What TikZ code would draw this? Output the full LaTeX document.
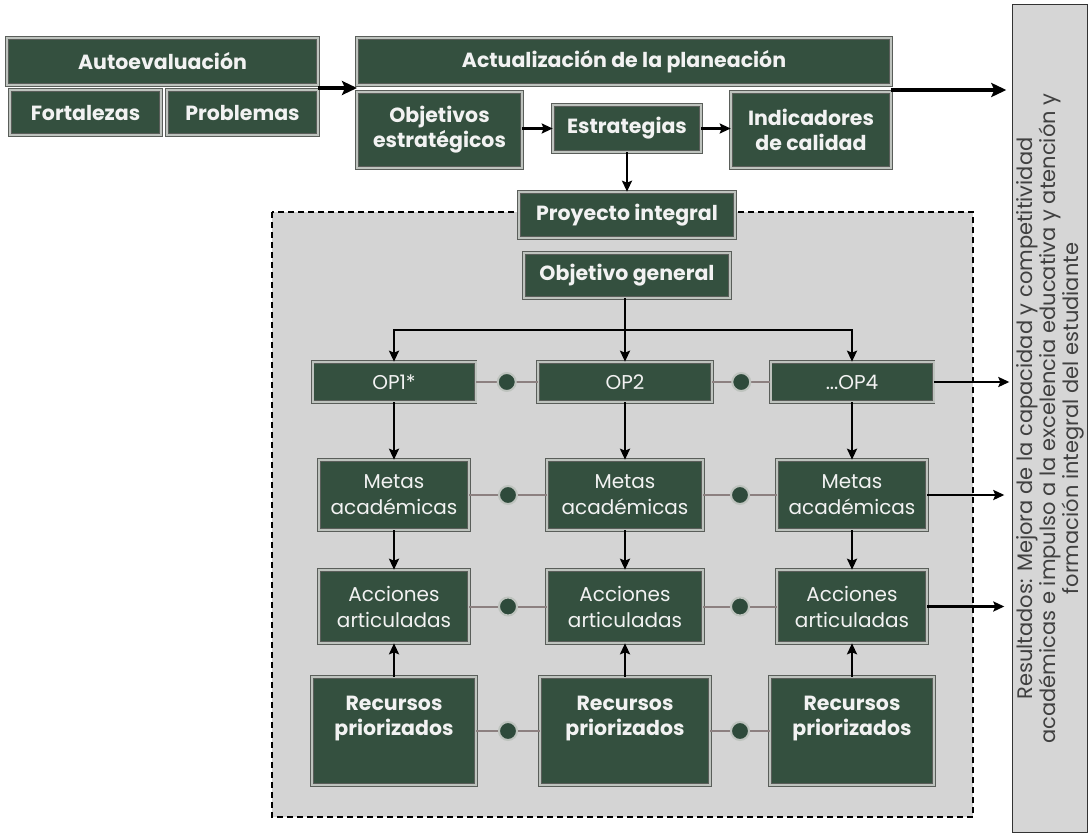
\documentclass[tikz,border=0pt]{standalone}
\usepackage{fontspec}
\setmainfont{Poppins}
\usetikzlibrary{arrows.meta}
\definecolor{boxgreen}{HTML}{34503F}
\definecolor{dotgreen}{HTML}{2E4A3B}
\definecolor{rim}{HTML}{BEC3BE}
\definecolor{edge}{HTML}{5A5E5A}
\definecolor{panelc}{HTML}{D4D4D4}
\definecolor{resc}{HTML}{D6D6D6}
\definecolor{linkc}{HTML}{8C8080}

\begin{document}
\begin{tikzpicture}[x=1pt, y=-1pt,
    box/.style={draw=edge, double=rim, double distance=2pt, line width=0.6pt, fill=boxgreen,
        text=white!95!black, align=center, inner sep=0pt, font=\bfseries\fontsize{20.5}{25}\selectfont},
    thinbox/.style={box, font=\fontsize{20}{26}\selectfont},
    arr/.style={line width=2.3pt, -{Stealth[length=11pt, width=10pt, inset=2pt]}},
    bigarr/.style={line width=3.5pt, -{Stealth[length=15pt, width=14pt, inset=3pt]}},
    link/.style={draw=linkc, line width=2pt},
    dot/.style={circle, fill=dotgreen, draw=rim, line width=2pt, minimum size=18pt, inner sep=0pt}]
    \useasboundingbox (0,0) rectangle (1090,840);

    % panel of the proyecto integral
    \fill[panelc] (272,212) rectangle (973,817);
    \draw[line width=1.2pt, dash pattern=on 6pt off 4pt] (272,212) rectangle (973,817);

    % top row
    \node[box, minimum width=311, minimum height=47] (auto) at (162.5,61.5) {Autoevaluación};
    \node[box, minimum width=151, minimum height=45] (fort) at (85.5,112.5) {Fortalezas};
    \node[box, minimum width=151, minimum height=45] (prob) at (242.5,112.5) {Problemas};
    \node[box, minimum width=534, minimum height=47] (act) at (624,61.5) {Actualización de la planeación};
    \node[box, minimum width=165, minimum height=76] (objes) at (439.5,130) {Objetivos\\estratégicos};
    \node[box, minimum width=148, minimum height=47] (estr) at (627,128.5) {Estrategias};
    \node[box, minimum width=160, minimum height=76] (indic) at (811,130) {Indicadores\\de calidad};

    \node[box, minimum width=216, minimum height=46] (proy) at (627,215) {Proyecto integral};
    \node[box, minimum width=206, minimum height=45] (og) at (627,275.5) {Objetivo general};

    % columns
    \node[thinbox, minimum width=163, minimum height=40] (op1) at (394,382) {OP1*};
    \node[thinbox, minimum width=174, minimum height=40] (op2) at (625,382) {OP2};
    \node[thinbox, minimum width=163, minimum height=40] (op4) at (852,382) {...OP4};

    \node[thinbox, minimum width=150, minimum height=70] (m1) at (394,495) {Metas\\académicas};
    \node[thinbox, minimum width=156, minimum height=70] (m2) at (625,495) {Metas\\académicas};
    \node[thinbox, minimum width=150, minimum height=70] (m3) at (852,495) {Metas\\académicas};

    \node[thinbox, minimum width=150, minimum height=73] (a1) at (394,606.5) {Acciones\\articuladas};
    \node[thinbox, minimum width=156, minimum height=73] (a2) at (625,606.5) {Acciones\\articuladas};
    \node[thinbox, minimum width=150, minimum height=73] (a3) at (852,606.5) {Acciones\\articuladas};

    \node[box, minimum width=164, minimum height=108, text depth=30pt] (r1) at (394,731) {Recursos\\priorizados};
    \node[box, minimum width=170, minimum height=108, text depth=30pt] (r2) at (625,731) {Recursos\\priorizados};
    \node[box, minimum width=164, minimum height=108, text depth=30pt] (r3) at (852,731) {Recursos\\priorizados};

    % results
    \node[rotate=90, draw=black!80, line width=1pt, fill=resc, minimum width=827, minimum height=70,
        align=center, text=black!75, font=\fontsize{21}{20}\selectfont] (res) at (1050,418.5)
        {Resultados: Mejora de la capacidad y competitividad\\
         académicas e impulso a la excelencia educativa y atención y\\
         formación integral del estudiante};

    \coordinate (autoout) at (318,88);
    \coordinate (actin) at (357,88);
    \coordinate (actout) at (891,90);

    \draw[bigarr] (autoout) -- (actin);
    \draw[bigarr] (actout) -- ([xshift=-6pt]res.north |- actout);
    \draw[arr] (objes.east |- estr) -- (estr.west);
    \draw[arr] (estr.east) -- (indic.west |- estr);
    \draw[arr] (estr.south) -- (proy.north);

    \coordinate (bus) at (625,330);
    \draw[arr] (og.south -| bus) -- (bus) -| (op1.north);
    \draw[arr] (bus) -| (op4.north);
    \draw[arr] (bus) -- (op2.north);

    \foreach \c in {1,2,4} {
        \ifnum\c=4 \def\k{3}\else\def\k{\c}\fi
        \draw[arr] (op\c.south) -- (m\k.north);
        \draw[arr] (m\k.south) -- (a\k.north);
        \draw[arr] (r\k.north) -- (a\k.south);
    }

    \draw[link] (op1) -- node[dot]{} (op2);
    \draw[link] (op2) -- node[dot]{} (op4);
    \draw[link] (m1) -- node[dot]{} (m2);
    \draw[link] (m2) -- node[dot]{} (m3);
    \draw[link] (a1) -- node[dot]{} (a2);
    \draw[link] (a2) -- node[dot]{} (a3);
    \draw[link] (r1) -- node[dot]{} (r2);
    \draw[link] (r2) -- node[dot]{} (r3);

    \draw[arr, line width=2.6pt] (op4.east) -- ([xshift=-3pt]res.north |- op4.east);
    \draw[arr, line width=2.6pt] (m3.east) -- ([xshift=-8pt]res.north |- m3.east);
    \draw[arr, line width=2.6pt] (a3.east) -- ([xshift=-8pt]res.north |- a3.east);
\end{tikzpicture}
\end{document}
